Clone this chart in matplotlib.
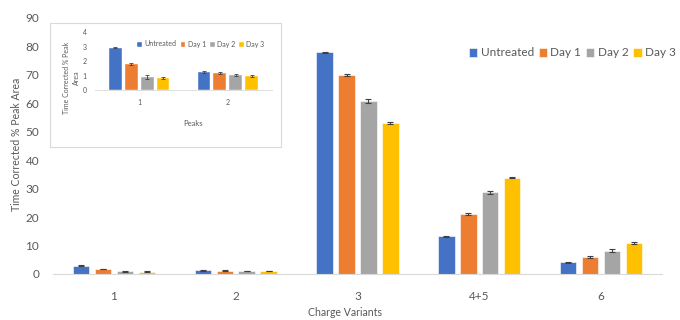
import matplotlib
matplotlib.use("Agg")
import matplotlib.pyplot as plt
import matplotlib.patches as mpatches
import numpy as np

plt.rcParams['font.family'] = ['Lato', 'DejaVu Sans']

categories = ['1', '2', '3', '4+5', '6']
series_names = ['Untreated', 'Day 1', 'Day 2', 'Day 3']
untreated = [2.95, 1.25, 77.9, 13.2, 4.1]
day1 = [1.8, 1.2, 69.9, 21.1, 5.9]
day2 = [0.9, 1.05, 60.8, 28.7, 8.2]
day3 = [0.85, 1.0, 53.0, 33.9, 10.8]
err_untreated = [0.06, 0.05, 0.3, 0.3, 0.2]
err_day1 = [0.05, 0.05, 0.3, 0.3, 0.3]
err_day2 = [0.15, 0.05, 0.8, 0.4, 0.6]
err_day3 = [0.05, 0.06, 0.3, 0.3, 0.3]

inset_categories = ['1', '2']

colors = ['#4472C4', '#ED7D31', '#A5A5A5', '#FFC000']
text_color = '#595959'
axis_color = '#D9D9D9'
err_color = '#404040'

values = [untreated, day1, day2, day3]
errors = [err_untreated, err_day1, err_day2, err_day3]

fig = plt.figure(figsize=(6.8, 3.2), dpi=100)
ax = fig.add_axes([53 / 680, 1 - 274 / 320, (662 - 53) / 680, (274 - 18) / 320])

x = np.arange(len(categories))
pitch = 0.18
width = 0.135
for i, (vals, errs) in enumerate(zip(values, errors)):
    ax.bar(x + (i - 1.5) * pitch, vals, width, color=colors[i], label=series_names[i],
           edgecolor='white', linewidth=0.4, yerr=errs,
           error_kw=dict(ecolor=err_color, elinewidth=0.8, capsize=2.5, capthick=0.8))

ax.set_xlim(-0.5, len(categories) - 0.5)
ax.set_ylim(0, 90)
ax.set_yticks(np.arange(0, 91, 10))
ax.set_xticks(x)
ax.set_xticklabels(categories)
ax.tick_params(axis='both', length=0, labelsize=8.5, colors=text_color)
ax.tick_params(axis='y', pad=10)
ax.tick_params(axis='x', pad=12)
for s in ['top', 'right', 'left']:
    ax.spines[s].set_visible(False)
ax.spines['bottom'].set_color(axis_color)
ax.spines['bottom'].set_linewidth(0.8)
fig.text(17 / 680, 1 - 144 / 320, 'Time Corrected % Peak Area', rotation=90,
         ha='center', va='center', fontsize=7.6, color=text_color)
fig.text(345 / 680, 1 - 312 / 320, 'Charge Variants', ha='center', va='center',
         fontsize=7.6, color=text_color)

ax.legend(loc='center left', bbox_to_anchor=(463 / 680, 1 - 53 / 320),
          bbox_transform=fig.transFigure, ncol=4, frameon=False,
          fontsize=8.5, handlelength=0.7, handleheight=0.7, handletextpad=0.3,
          columnspacing=0.4, borderpad=0, labelcolor=text_color)

# inset box
rect = mpatches.Rectangle((50 / 680, 1 - 147 / 320), (281 - 50) / 680, (147 - 23) / 320,
                          transform=fig.transFigure, facecolor='white',
                          edgecolor=axis_color, linewidth=0.8, zorder=1)
fig.patches.append(rect)

iax = fig.add_axes([95 / 680, 1 - 90.3 / 320, (272 - 95) / 680, (90.3 - 32.3) / 320], zorder=2)
iax.patch.set_alpha(0)
xi = np.arange(len(inset_categories))
for i, (vals, errs) in enumerate(zip(values, errors)):
    iax.bar(xi + (i - 1.5) * pitch, vals[:len(inset_categories)], 0.143, color=colors[i],
            label=series_names[i], edgecolor='white', linewidth=0.3,
            yerr=errs[:len(inset_categories)],
            error_kw=dict(ecolor=err_color, elinewidth=0.6, capsize=1.5, capthick=0.6))
iax.set_xlim(-0.5, len(inset_categories) - 0.5)
iax.set_ylim(0, 4)
iax.set_yticks(np.arange(0, 5, 1))
iax.set_xticks(xi)
iax.set_xticklabels(inset_categories)
iax.tick_params(axis='both', length=0, labelsize=5, colors=text_color)
iax.tick_params(axis='y', pad=6)
iax.tick_params(axis='x', pad=6)
for s in ['top', 'right', 'left']:
    iax.spines[s].set_visible(False)
iax.spines['bottom'].set_color(axis_color)
iax.spines['bottom'].set_linewidth(0.6)
fig.text(71.5 / 680, 1 - 78 / 320, 'Time Corrected % Peak\nArea', rotation=90,
         ha='center', va='center', fontsize=5, color=text_color, linespacing=1.6)
fig.text(193 / 680, 1 - 123 / 320, 'Peaks', ha='center', va='center',
         fontsize=5.5, color=text_color)
iax.legend(loc='center left', bbox_to_anchor=(134 / 680, 1 - 44 / 320),
           bbox_transform=fig.transFigure, ncol=4, frameon=False,
           fontsize=5, handlelength=0.7, handleheight=0.7, handletextpad=0.3,
           columnspacing=0.6, borderpad=0, labelcolor=text_color)

fig.savefig('out.png', dpi=100)
